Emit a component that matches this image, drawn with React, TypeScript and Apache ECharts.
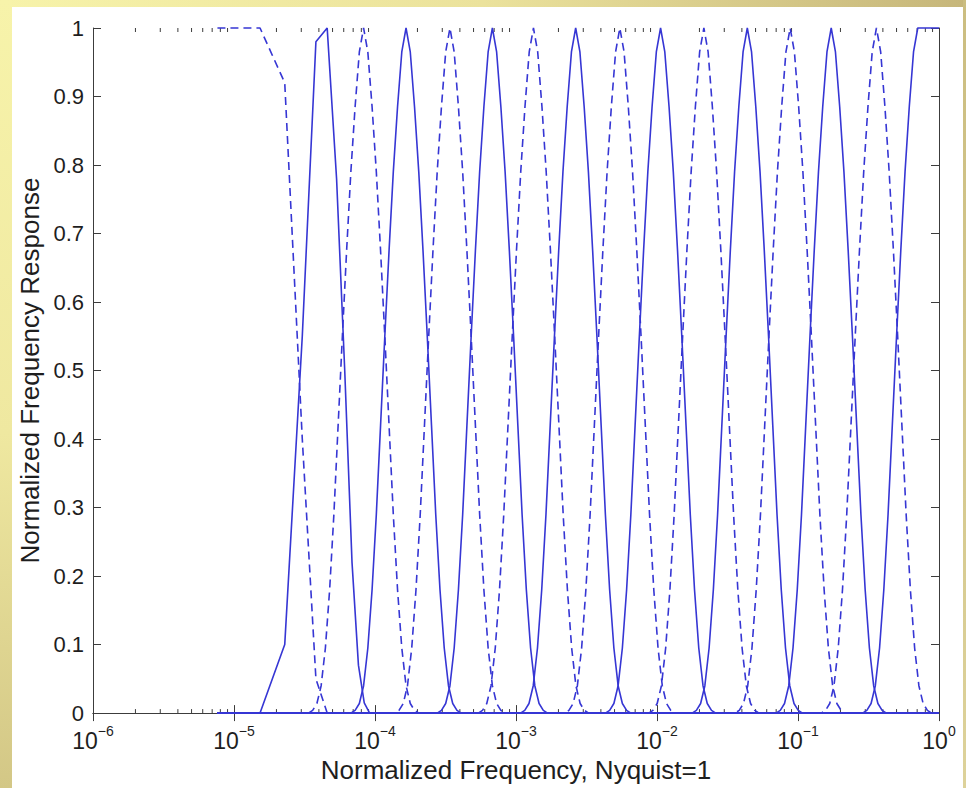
import React, { useEffect, useRef } from "react";
import * as echarts from "echarts";

// ---- data ----
// frequency response of one band (offset in octaves from its centre -> response)
const bandShapeOffsets = [-1.3, -1.2, -1.1, -1.0, -0.9, -0.8, -0.7, -0.6, -0.5, -0.4, -0.3, -0.2, -0.1, 0, 0.1, 0.2, 0.3, 0.4, 0.5, 0.6, 0.7, 0.8, 0.9, 1.0, 1.1, 1.2, 1.3];
const bandShapeValues = [0, 0.004, 0.014, 0.04, 0.095, 0.18, 0.29, 0.42, 0.55, 0.675, 0.79, 0.885, 0.965, 1, 0.965, 0.885, 0.79, 0.675, 0.55, 0.42, 0.29, 0.18, 0.095, 0.04, 0.014, 0.004, 0];

// band centres (normalized frequency)
const dashedBandCenters = [3.6e-1, 8.8e-2, 2.15e-2, 5.45e-3, 1.33e-3, 3.4e-4, 8.3e-5];
const solidBandCenters = [1.72e-1, 4.37e-2, 1.06e-2, 2.65e-3, 6.8e-4, 1.66e-4];
const highpassCenter = 7.07e-1;

// coarse low-frequency filters
const lowpassFreq = [7.63e-6, 1.53e-5, 2.29e-5, 3.05e-5, 3.81e-5, 4.58e-5, 1];
const lowpassResp = [1, 1, 0.92, 0.4, 0.05, 0, 0];
const firstBandFreq = [7.63e-6, 1.53e-5, 2.29e-5, 3.05e-5, 3.81e-5, 4.58e-5, 5.34e-5, 6.1e-5, 6.87e-5, 7.63e-5, 8.39e-5, 9.16e-5, 1];
const firstBandResp = [0, 0, 0.1, 0.55, 0.98, 1, 0.78, 0.5, 0.22, 0.07, 0.015, 0, 0];

const freqStart = 7.63e-6;
const freqEnd = 1;

const minorTickValues = [
  2e-6, 3e-6, 4e-6, 5e-6, 6e-6, 7e-6, 8e-6, 9e-6,
  2e-5, 3e-5, 4e-5, 5e-5, 6e-5, 7e-5, 8e-5, 9e-5,
  2e-4, 3e-4, 4e-4, 5e-4, 6e-4, 7e-4, 8e-4, 9e-4,
  2e-3, 3e-3, 4e-3, 5e-3, 6e-3, 7e-3, 8e-3, 9e-3,
  2e-2, 3e-2, 4e-2, 5e-2, 6e-2, 7e-2, 8e-2, 9e-2,
  2e-1, 3e-1, 4e-1, 5e-1, 6e-1, 7e-1, 8e-1, 9e-1,
];

const xAxisTitle = "Normalized Frequency, Nyquist=1";
const yAxisTitle = "Normalized Frequency Response";

const FONT = "'Liberation Sans', Arial, Helvetica, sans-serif";
const LINE_COLOR = "#3636d4";
const AXIS_COLOR = "#3c3c3c";
const TEXT_COLOR = "#1e1e1e";

function bandPoints(center: number): number[][] {
  const pts: number[][] = [[freqStart, 0]];
  bandShapeOffsets.forEach((o, i) => pts.push([center * Math.pow(2, o), bandShapeValues[i]]));
  pts.push([freqEnd, 0]);
  return pts;
}

function highpassPoints(center: number): number[][] {
  const pts: number[][] = [[freqStart, 0]];
  bandShapeOffsets.forEach((o, i) => {
    if (o <= 0) pts.push([center * Math.pow(2, o), bandShapeValues[i]]);
  });
  pts.push([freqEnd, 1]);
  return pts;
}

export default function App() {
  const ref = useRef<HTMLDivElement>(null);

  useEffect(() => {
    if (!ref.current) return;
    const chart = echarts.init(ref.current, null, { renderer: "svg" });

    const solidStyle = { color: LINE_COLOR, width: 1.6, type: "solid" as const };
    const dashedStyle = { color: LINE_COLOR, width: 1.6, type: [8, 5] as any };

    const series: any[] = [];
    series.push({
      type: "line",
      data: lowpassFreq.map((f, i) => [f, lowpassResp[i]]),
      symbol: "none",
      lineStyle: dashedStyle,
      clip: false,
      silent: true,
    });
    dashedBandCenters.forEach((c) =>
      series.push({ type: "line", data: bandPoints(c), symbol: "none", lineStyle: dashedStyle, clip: false, silent: true })
    );
    series.push({
      type: "line",
      data: firstBandFreq.map((f, i) => [f, firstBandResp[i]]),
      symbol: "none",
      lineStyle: solidStyle,
      clip: false,
      silent: true,
    });
    solidBandCenters.forEach((c) =>
      series.push({ type: "line", data: bandPoints(c), symbol: "none", lineStyle: solidStyle, clip: false, silent: true })
    );
    series.push({
      type: "line",
      data: highpassPoints(highpassCenter),
      symbol: "none",
      lineStyle: solidStyle,
      clip: false,
      silent: true,
    });
    // minor log ticks (top and bottom, pointing inward)
    series.push({
      type: "custom",
      silent: true,
      z: 1,
      data: minorTickValues.map((v) => [v, 0]),
      encode: { x: 0, y: 1 },
      renderItem: (_params: any, api: any) => {
        const v = api.value(0);
        const b = api.coord([v, 0]);
        const t = api.coord([v, 1]);
        return {
          type: "group",
          children: [
            { type: "line", shape: { x1: b[0], y1: b[1], x2: b[0], y2: b[1] - 4 }, style: { stroke: AXIS_COLOR, lineWidth: 1 } },
            { type: "line", shape: { x1: t[0], y1: t[1], x2: t[0], y2: t[1] + 4 }, style: { stroke: AXIS_COLOR, lineWidth: 1 } },
          ],
        };
      },
    });

    const commonLine = { show: true, lineStyle: { color: AXIS_COLOR, width: 1 } };
    const commonTick = { show: true, inside: true, length: 8, lineStyle: { color: AXIS_COLOR, width: 1 } };

    chart.setOption({
      animation: false,
      backgroundColor: "transparent",
      grid: { left: 93, right: 27, top: 28, bottom: 73 },
      xAxis: [
        {
          type: "log",
          logBase: 10,
          min: 1e-6,
          max: 1,
          splitNumber: 6,
          position: "bottom",
          axisLine: commonLine,
          axisTick: commonTick,
          minorTick: { show: false },
          splitLine: { show: false },
          axisLabel: {
            margin: 11,
            formatter: (v: number) => {
              const e = Math.round(Math.log10(v));
              const s = e < 0 ? "\u2212" + Math.abs(e) : String(e);
              return "{b|10}{s|" + s + "}";
            },
            rich: {
              b: { fontSize: 23, fontFamily: FONT, color: TEXT_COLOR, verticalAlign: "bottom", lineHeight: 28 },
              s: { fontSize: 14, fontFamily: FONT, color: TEXT_COLOR, verticalAlign: "top", lineHeight: 28 },
            },
          },
          name: xAxisTitle,
          nameLocation: "middle",
          nameGap: 42,
          nameTextStyle: { fontSize: 26, fontFamily: FONT, color: TEXT_COLOR },
        },
        {
          type: "log",
          logBase: 10,
          min: 1e-6,
          max: 1,
          splitNumber: 6,
          position: "top",
          axisLine: commonLine,
          axisTick: commonTick,
          splitLine: { show: false },
          axisLabel: { show: false },
        },
      ],
      yAxis: [
        {
          type: "value",
          min: 0,
          max: 1,
          interval: 0.1,
          position: "left",
          axisLine: commonLine,
          axisTick: commonTick,
          splitLine: { show: false },
          axisLabel: { fontSize: 22, fontFamily: FONT, color: TEXT_COLOR, margin: 9 },
          name: yAxisTitle,
          nameLocation: "middle",
          nameGap: 48,
          nameTextStyle: { fontSize: 26, fontFamily: FONT, color: TEXT_COLOR },
        },
        {
          type: "value",
          min: 0,
          max: 1,
          interval: 0.1,
          position: "right",
          axisLine: commonLine,
          axisTick: commonTick,
          splitLine: { show: false },
          axisLabel: { show: false },
        },
      ],
      series,
    });

    return () => chart.dispose();
  }, []);

  return (
    <div style={{ position: "absolute", left: 0, top: 0, width: 966, height: 788, overflow: "hidden", background: "#ffffff" }}>
      <div style={{ position: "absolute", left: 0, top: 0, width: 966, height: 7, background: "linear-gradient(to right, #f7f3aa, #ebe29c 50%, #c6b67a)" }} />
      <div style={{ position: "absolute", left: 0, top: 0, width: 12, height: 788, background: "linear-gradient(to bottom, #f7f3aa, #efe8a0 55%, #d3c786)" }} />
      <div style={{ position: "absolute", right: 0, top: 0, width: 3, height: 788, background: "linear-gradient(to bottom, #cbbd80, #ddd29a)" }} />
      <div ref={ref} style={{ position: "absolute", left: 0, top: 0, width: 966, height: 788 }} />
    </div>
  );
}
